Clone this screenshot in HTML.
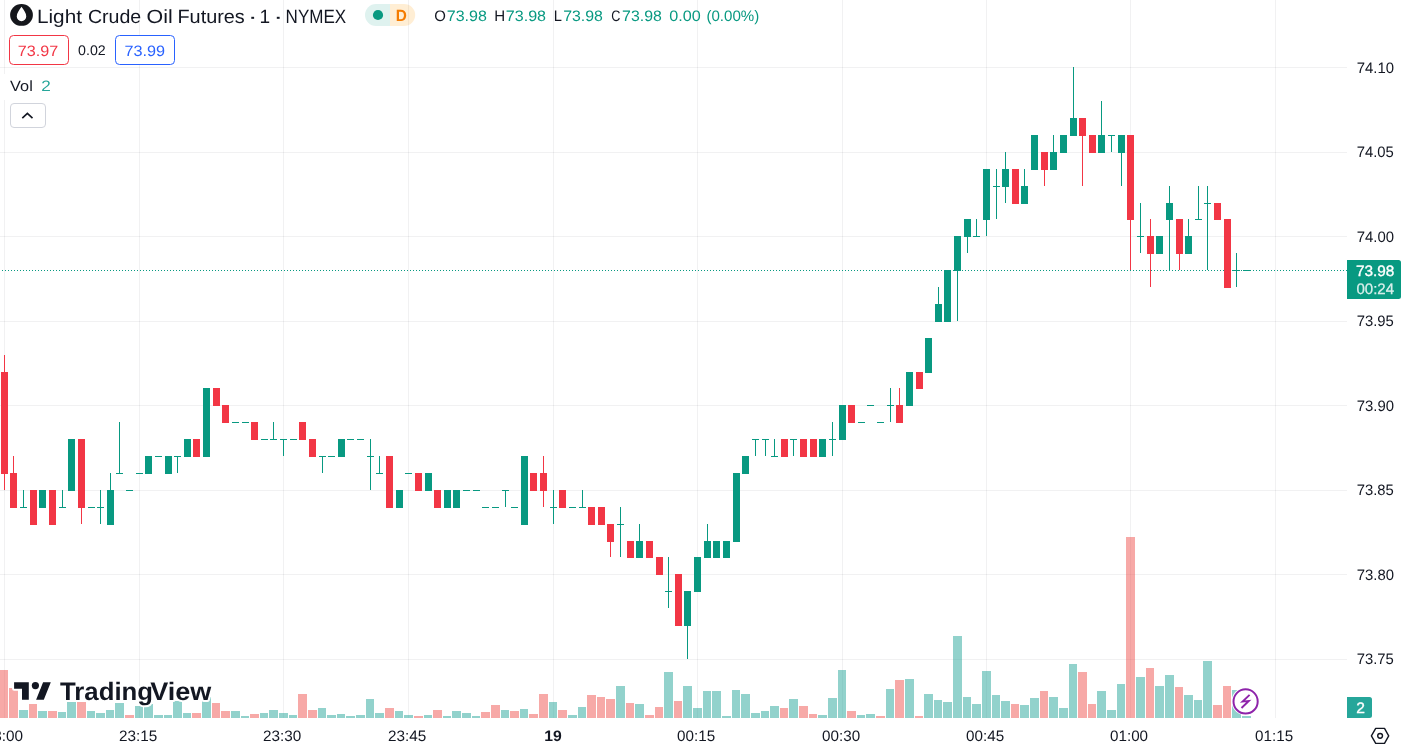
<!DOCTYPE html>
<html lang="en"><head><meta charset="utf-8"><title>Light Crude Oil Futures · 1 · NYMEX</title>
<style>
html,body{margin:0;padding:0;background:#fff;overflow:hidden}
body{width:1401px;height:751px}
svg{display:block}
text{white-space:pre}
</style></head><body>
<svg width="1401" height="751" viewBox="0 0 1401 751" font-family='"Liberation Sans", Arial, sans-serif' text-rendering="geometricPrecision">
<rect width="1401" height="751" fill="#fff"/>
<g fill="rgba(42,46,57,0.065)" shape-rendering="crispEdges"><rect x="4" y="0" width="1" height="718"/><rect x="139" y="0" width="1" height="718"/><rect x="283" y="0" width="1" height="718"/><rect x="408" y="0" width="1" height="718"/><rect x="553" y="0" width="1" height="718"/><rect x="697" y="0" width="1" height="718"/><rect x="842" y="0" width="1" height="718"/><rect x="986" y="0" width="1" height="718"/><rect x="1130" y="0" width="1" height="718"/><rect x="1275" y="0" width="1" height="718"/><rect x="0" y="67" width="1347" height="1"/><rect x="0" y="152" width="1347" height="1"/><rect x="0" y="236" width="1347" height="1"/><rect x="0" y="321" width="1347" height="1"/><rect x="0" y="405" width="1347" height="1"/><rect x="0" y="490" width="1347" height="1"/><rect x="0" y="574" width="1347" height="1"/><rect x="0" y="659" width="1347" height="1"/></g>
<g shape-rendering="crispEdges"><g fill="rgba(38,166,154,0.5)"><rect x="19" y="710" width="9" height="8"/><rect x="38" y="711" width="9" height="7"/><rect x="58" y="712" width="8" height="6"/><rect x="67" y="702" width="9" height="16"/><rect x="87" y="711" width="8" height="7"/><rect x="96" y="713" width="9" height="5"/><rect x="106" y="710" width="8" height="8"/><rect x="115" y="703" width="9" height="15"/><rect x="135" y="706" width="8" height="12"/><rect x="144" y="704" width="9" height="14"/><rect x="154" y="715" width="9" height="3"/><rect x="164" y="715" width="8" height="3"/><rect x="173" y="701" width="9" height="17"/><rect x="183" y="713" width="8" height="5"/><rect x="202" y="697" width="9" height="21"/><rect x="231" y="711" width="9" height="7"/><rect x="241" y="716" width="8" height="2"/><rect x="260" y="713" width="8" height="5"/><rect x="269" y="710" width="9" height="8"/><rect x="279" y="713" width="9" height="5"/><rect x="289" y="715" width="8" height="3"/><rect x="318" y="708" width="8" height="10"/><rect x="327" y="715" width="9" height="3"/><rect x="337" y="714" width="8" height="4"/><rect x="346" y="716" width="9" height="2"/><rect x="356" y="715" width="9" height="3"/><rect x="366" y="699" width="8" height="19"/><rect x="375" y="713" width="9" height="5"/><rect x="395" y="711" width="8" height="7"/><rect x="404" y="715" width="9" height="3"/><rect x="424" y="715" width="8" height="3"/><rect x="443" y="716" width="8" height="2"/><rect x="452" y="711" width="9" height="7"/><rect x="462" y="713" width="9" height="5"/><rect x="472" y="716" width="8" height="2"/><rect x="501" y="710" width="8" height="8"/><rect x="520" y="709" width="8" height="9"/><rect x="549" y="702" width="8" height="16"/><rect x="568" y="715" width="9" height="3"/><rect x="578" y="707" width="8" height="11"/><rect x="616" y="686" width="9" height="32"/><rect x="635" y="704" width="9" height="14"/><rect x="664" y="672" width="9" height="46"/><rect x="683" y="686" width="9" height="32"/><rect x="693" y="708" width="9" height="10"/><rect x="703" y="691" width="8" height="27"/><rect x="712" y="691" width="9" height="27"/><rect x="722" y="716" width="9" height="2"/><rect x="732" y="690" width="8" height="28"/><rect x="741" y="694" width="9" height="24"/><rect x="751" y="713" width="9" height="5"/><rect x="761" y="711" width="8" height="7"/><rect x="770" y="706" width="9" height="12"/><rect x="789" y="699" width="9" height="19"/><rect x="818" y="715" width="9" height="3"/><rect x="828" y="698" width="9" height="20"/><rect x="838" y="670" width="8" height="48"/><rect x="857" y="715" width="8" height="3"/><rect x="866" y="714" width="9" height="4"/><rect x="886" y="689" width="8" height="29"/><rect x="905" y="679" width="9" height="39"/><rect x="924" y="694" width="9" height="24"/><rect x="934" y="700" width="8" height="18"/><rect x="943" y="702" width="9" height="16"/><rect x="953" y="636" width="9" height="82"/><rect x="963" y="697" width="8" height="21"/><rect x="972" y="704" width="9" height="14"/><rect x="982" y="671" width="9" height="47"/><rect x="992" y="695" width="8" height="23"/><rect x="1001" y="701" width="9" height="17"/><rect x="1020" y="705" width="9" height="13"/><rect x="1030" y="698" width="9" height="20"/><rect x="1049" y="697" width="9" height="21"/><rect x="1059" y="708" width="9" height="10"/><rect x="1069" y="664" width="8" height="54"/><rect x="1097" y="691" width="9" height="27"/><rect x="1107" y="710" width="9" height="8"/><rect x="1117" y="684" width="8" height="34"/><rect x="1136" y="677" width="9" height="41"/><rect x="1155" y="686" width="9" height="32"/><rect x="1165" y="675" width="9" height="43"/><rect x="1184" y="695" width="9" height="23"/><rect x="1194" y="700" width="8" height="18"/><rect x="1203" y="661" width="9" height="57"/><rect x="1232" y="690" width="9" height="28"/><rect x="1242" y="716" width="9" height="2"/></g><g fill="rgba(239,83,80,0.5)"><rect x="0" y="670" width="8" height="48"/><rect x="9" y="688" width="9" height="30"/><rect x="29" y="704" width="8" height="14"/><rect x="48" y="711" width="9" height="7"/><rect x="77" y="702" width="9" height="16"/><rect x="125" y="715" width="9" height="3"/><rect x="192" y="713" width="9" height="5"/><rect x="212" y="703" width="8" height="15"/><rect x="221" y="711" width="9" height="7"/><rect x="250" y="714" width="9" height="4"/><rect x="298" y="694" width="9" height="24"/><rect x="308" y="710" width="9" height="8"/><rect x="385" y="708" width="9" height="10"/><rect x="414" y="716" width="9" height="2"/><rect x="433" y="710" width="9" height="8"/><rect x="481" y="712" width="9" height="6"/><rect x="491" y="705" width="9" height="13"/><rect x="510" y="711" width="9" height="7"/><rect x="529" y="714" width="9" height="4"/><rect x="539" y="694" width="9" height="24"/><rect x="558" y="710" width="9" height="8"/><rect x="587" y="695" width="9" height="23"/><rect x="597" y="697" width="8" height="21"/><rect x="606" y="699" width="9" height="19"/><rect x="626" y="703" width="8" height="15"/><rect x="645" y="715" width="9" height="3"/><rect x="655" y="707" width="8" height="11"/><rect x="674" y="701" width="8" height="17"/><rect x="780" y="708" width="8" height="10"/><rect x="799" y="706" width="9" height="12"/><rect x="809" y="714" width="8" height="4"/><rect x="847" y="711" width="9" height="7"/><rect x="876" y="716" width="9" height="2"/><rect x="895" y="680" width="9" height="38"/><rect x="915" y="716" width="8" height="2"/><rect x="1011" y="704" width="8" height="14"/><rect x="1040" y="691" width="8" height="27"/><rect x="1078" y="672" width="9" height="46"/><rect x="1088" y="704" width="8" height="14"/><rect x="1126" y="537" width="9" height="181"/><rect x="1146" y="668" width="8" height="50"/><rect x="1175" y="687" width="8" height="31"/><rect x="1213" y="705" width="9" height="13"/><rect x="1223" y="686" width="8" height="32"/></g></g>
<line x1="2" y1="270.5" x2="1347" y2="270.5" stroke="#089981" stroke-width="1" stroke-dasharray="1 2" shape-rendering="crispEdges"/>
<g shape-rendering="crispEdges"><g fill="#089981"><rect x="23" y="490" width="1" height="17"/><rect x="20" y="507" width="7" height="1"/><rect x="42" y="490" width="1" height="17"/><rect x="39" y="490" width="7" height="18"/><rect x="62" y="490" width="1" height="17"/><rect x="59" y="507" width="7" height="1"/><rect x="71" y="439" width="1" height="51"/><rect x="68" y="439" width="7" height="52"/><rect x="88" y="507" width="7" height="1"/><rect x="100" y="490" width="1" height="34"/><rect x="97" y="507" width="7" height="1"/><rect x="110" y="473" width="1" height="51"/><rect x="107" y="490" width="7" height="35"/><rect x="119" y="422" width="1" height="51"/><rect x="116" y="473" width="7" height="1"/><rect x="126" y="490" width="7" height="1"/><rect x="136" y="473" width="7" height="1"/><rect x="148" y="456" width="1" height="17"/><rect x="145" y="456" width="7" height="18"/><rect x="155" y="456" width="7" height="1"/><rect x="168" y="456" width="1" height="17"/><rect x="165" y="456" width="7" height="18"/><rect x="177" y="456" width="1" height="17"/><rect x="174" y="456" width="7" height="1"/><rect x="187" y="439" width="1" height="17"/><rect x="184" y="439" width="7" height="18"/><rect x="206" y="388" width="1" height="68"/><rect x="203" y="388" width="7" height="69"/><rect x="232" y="422" width="7" height="1"/><rect x="242" y="422" width="7" height="1"/><rect x="261" y="439" width="7" height="1"/><rect x="273" y="422" width="1" height="17"/><rect x="270" y="439" width="7" height="1"/><rect x="283" y="439" width="1" height="17"/><rect x="280" y="439" width="7" height="1"/><rect x="290" y="439" width="7" height="1"/><rect x="322" y="456" width="1" height="17"/><rect x="319" y="456" width="7" height="1"/><rect x="328" y="456" width="7" height="1"/><rect x="341" y="439" width="1" height="17"/><rect x="338" y="439" width="7" height="18"/><rect x="347" y="439" width="7" height="1"/><rect x="357" y="439" width="7" height="1"/><rect x="370" y="439" width="1" height="51"/><rect x="367" y="456" width="7" height="1"/><rect x="379" y="456" width="1" height="17"/><rect x="376" y="473" width="7" height="1"/><rect x="399" y="490" width="1" height="17"/><rect x="396" y="490" width="7" height="18"/><rect x="405" y="473" width="7" height="1"/><rect x="428" y="473" width="1" height="17"/><rect x="425" y="473" width="7" height="18"/><rect x="447" y="490" width="1" height="17"/><rect x="444" y="490" width="7" height="18"/><rect x="456" y="490" width="1" height="17"/><rect x="453" y="490" width="7" height="18"/><rect x="463" y="490" width="7" height="1"/><rect x="473" y="490" width="7" height="1"/><rect x="482" y="507" width="7" height="1"/><rect x="492" y="507" width="7" height="1"/><rect x="505" y="490" width="1" height="17"/><rect x="502" y="490" width="7" height="1"/><rect x="511" y="507" width="7" height="1"/><rect x="524" y="456" width="1" height="68"/><rect x="521" y="456" width="7" height="69"/><rect x="553" y="490" width="1" height="34"/><rect x="550" y="507" width="7" height="1"/><rect x="569" y="507" width="7" height="1"/><rect x="582" y="490" width="1" height="17"/><rect x="579" y="507" width="7" height="1"/><rect x="620" y="507" width="1" height="50"/><rect x="617" y="524" width="7" height="1"/><rect x="639" y="524" width="1" height="33"/><rect x="636" y="541" width="7" height="17"/><rect x="668" y="557" width="1" height="51"/><rect x="665" y="591" width="7" height="1"/><rect x="687" y="591" width="1" height="68"/><rect x="684" y="591" width="7" height="35"/><rect x="697" y="557" width="1" height="34"/><rect x="694" y="557" width="7" height="35"/><rect x="707" y="524" width="1" height="33"/><rect x="704" y="541" width="7" height="17"/><rect x="716" y="541" width="1" height="16"/><rect x="713" y="541" width="7" height="17"/><rect x="726" y="541" width="1" height="16"/><rect x="723" y="541" width="7" height="17"/><rect x="736" y="473" width="1" height="68"/><rect x="733" y="473" width="7" height="69"/><rect x="745" y="456" width="1" height="17"/><rect x="742" y="456" width="7" height="18"/><rect x="755" y="439" width="1" height="17"/><rect x="752" y="439" width="7" height="1"/><rect x="765" y="439" width="1" height="17"/><rect x="762" y="439" width="7" height="1"/><rect x="774" y="439" width="1" height="17"/><rect x="771" y="456" width="7" height="1"/><rect x="793" y="439" width="1" height="17"/><rect x="790" y="439" width="7" height="1"/><rect x="822" y="439" width="1" height="17"/><rect x="819" y="439" width="7" height="18"/><rect x="832" y="422" width="1" height="34"/><rect x="829" y="439" width="7" height="1"/><rect x="842" y="405" width="1" height="34"/><rect x="839" y="405" width="7" height="35"/><rect x="858" y="422" width="7" height="1"/><rect x="867" y="405" width="7" height="1"/><rect x="877" y="422" width="7" height="1"/><rect x="890" y="388" width="1" height="34"/><rect x="887" y="405" width="7" height="1"/><rect x="909" y="372" width="1" height="33"/><rect x="906" y="372" width="7" height="34"/><rect x="928" y="338" width="1" height="34"/><rect x="925" y="338" width="7" height="35"/><rect x="938" y="287" width="1" height="34"/><rect x="935" y="304" width="7" height="18"/><rect x="947" y="270" width="1" height="51"/><rect x="944" y="270" width="7" height="52"/><rect x="957" y="236" width="1" height="85"/><rect x="954" y="236" width="7" height="35"/><rect x="967" y="219" width="1" height="34"/><rect x="964" y="219" width="7" height="18"/><rect x="976" y="219" width="1" height="17"/><rect x="973" y="236" width="7" height="1"/><rect x="986" y="169" width="1" height="67"/><rect x="983" y="169" width="7" height="51"/><rect x="996" y="169" width="1" height="50"/><rect x="993" y="186" width="7" height="1"/><rect x="1005" y="152" width="1" height="51"/><rect x="1002" y="169" width="7" height="18"/><rect x="1024" y="169" width="1" height="34"/><rect x="1021" y="186" width="7" height="18"/><rect x="1034" y="135" width="1" height="34"/><rect x="1031" y="135" width="7" height="35"/><rect x="1053" y="135" width="1" height="34"/><rect x="1050" y="152" width="7" height="18"/><rect x="1063" y="135" width="1" height="17"/><rect x="1060" y="135" width="7" height="18"/><rect x="1073" y="67" width="1" height="68"/><rect x="1070" y="118" width="7" height="18"/><rect x="1101" y="101" width="1" height="51"/><rect x="1098" y="135" width="7" height="18"/><rect x="1111" y="135" width="1" height="17"/><rect x="1108" y="135" width="7" height="1"/><rect x="1121" y="135" width="1" height="51"/><rect x="1118" y="135" width="7" height="18"/><rect x="1140" y="203" width="1" height="50"/><rect x="1137" y="236" width="7" height="1"/><rect x="1159" y="236" width="1" height="17"/><rect x="1156" y="236" width="7" height="18"/><rect x="1169" y="186" width="1" height="84"/><rect x="1166" y="203" width="7" height="17"/><rect x="1188" y="219" width="1" height="34"/><rect x="1185" y="236" width="7" height="18"/><rect x="1198" y="186" width="1" height="33"/><rect x="1195" y="219" width="7" height="1"/><rect x="1207" y="186" width="1" height="84"/><rect x="1204" y="203" width="7" height="1"/><rect x="1236" y="253" width="1" height="34"/><rect x="1233" y="270" width="7" height="1"/><rect x="1243" y="270" width="7" height="1"/></g><g fill="#F23645"><rect x="4" y="355" width="1" height="135"/><rect x="1" y="372" width="7" height="102"/><rect x="13" y="456" width="1" height="51"/><rect x="10" y="473" width="7" height="35"/><rect x="33" y="490" width="1" height="34"/><rect x="30" y="490" width="7" height="35"/><rect x="52" y="490" width="1" height="34"/><rect x="49" y="490" width="7" height="35"/><rect x="81" y="439" width="1" height="85"/><rect x="78" y="439" width="7" height="69"/><rect x="196" y="439" width="1" height="17"/><rect x="193" y="439" width="7" height="18"/><rect x="216" y="388" width="1" height="17"/><rect x="213" y="388" width="7" height="18"/><rect x="225" y="405" width="1" height="17"/><rect x="222" y="405" width="7" height="18"/><rect x="254" y="422" width="1" height="17"/><rect x="251" y="422" width="7" height="18"/><rect x="302" y="422" width="1" height="17"/><rect x="299" y="422" width="7" height="18"/><rect x="312" y="439" width="1" height="17"/><rect x="309" y="439" width="7" height="18"/><rect x="389" y="456" width="1" height="51"/><rect x="386" y="456" width="7" height="52"/><rect x="418" y="473" width="1" height="17"/><rect x="415" y="473" width="7" height="18"/><rect x="437" y="490" width="1" height="17"/><rect x="434" y="490" width="7" height="18"/><rect x="533" y="473" width="1" height="17"/><rect x="530" y="473" width="7" height="18"/><rect x="543" y="456" width="1" height="51"/><rect x="540" y="473" width="7" height="18"/><rect x="562" y="490" width="1" height="17"/><rect x="559" y="490" width="7" height="18"/><rect x="591" y="507" width="1" height="17"/><rect x="588" y="507" width="7" height="18"/><rect x="601" y="507" width="1" height="17"/><rect x="598" y="507" width="7" height="18"/><rect x="610" y="524" width="1" height="33"/><rect x="607" y="524" width="7" height="18"/><rect x="630" y="541" width="1" height="16"/><rect x="627" y="541" width="7" height="17"/><rect x="649" y="541" width="1" height="16"/><rect x="646" y="541" width="7" height="17"/><rect x="659" y="557" width="1" height="17"/><rect x="656" y="557" width="7" height="18"/><rect x="678" y="574" width="1" height="51"/><rect x="675" y="574" width="7" height="52"/><rect x="784" y="439" width="1" height="17"/><rect x="781" y="439" width="7" height="18"/><rect x="803" y="439" width="1" height="17"/><rect x="800" y="439" width="7" height="18"/><rect x="813" y="439" width="1" height="17"/><rect x="810" y="439" width="7" height="18"/><rect x="851" y="405" width="1" height="17"/><rect x="848" y="405" width="7" height="18"/><rect x="899" y="388" width="1" height="34"/><rect x="896" y="405" width="7" height="18"/><rect x="919" y="372" width="1" height="16"/><rect x="916" y="372" width="7" height="17"/><rect x="1015" y="169" width="1" height="34"/><rect x="1012" y="169" width="7" height="35"/><rect x="1044" y="152" width="1" height="34"/><rect x="1041" y="152" width="7" height="18"/><rect x="1082" y="118" width="1" height="68"/><rect x="1079" y="118" width="7" height="18"/><rect x="1092" y="135" width="1" height="17"/><rect x="1089" y="135" width="7" height="18"/><rect x="1130" y="135" width="1" height="135"/><rect x="1127" y="135" width="7" height="85"/><rect x="1150" y="219" width="1" height="68"/><rect x="1147" y="236" width="7" height="18"/><rect x="1179" y="219" width="1" height="51"/><rect x="1176" y="219" width="7" height="35"/><rect x="1217" y="203" width="1" height="16"/><rect x="1214" y="203" width="7" height="17"/><rect x="1227" y="219" width="1" height="68"/><rect x="1224" y="219" width="7" height="69"/></g></g>
<!-- last price label -->
<path d="M1347 260H1398.5a2.5 2.5 0 0 1 2.5 2.5V296.5a2.5 2.5 0 0 1-2.5 2.5H1347z" fill="#089981"/>
<!-- volume label -->
<path d="M1347 697H1369.5a2.5 2.5 0 0 1 2.5 2.5V715.5a2.5 2.5 0 0 1-2.5 2.5H1347z" fill="#26A69A"/>
<!-- settings icon -->
<g fill="none" stroke="#131722" stroke-width="1.4" stroke-linejoin="round">
<path d="M1371.4 735.85L1375.7 728.35H1384.5L1388.7 735.85L1384.5 743.35H1375.7Z"/>
<circle cx="1380.1" cy="735.85" r="2.4"/>
</g>
<!-- lightning icon -->
<circle cx="1245.6" cy="701.4" r="14" fill="#fff"/>
<circle cx="1245.6" cy="701.4" r="12.1" fill="#fff" stroke="#8E24AA" stroke-width="2"/>
<path d="M1249.6 694.9L1242.6 701.6L1248.8 700.9L1241.5 708" fill="none" stroke="#8E24AA" stroke-width="1.9" stroke-miterlimit="8"/>
<!-- legend: symbol icon -->
<ellipse cx="21.5" cy="14.9" rx="11.4" ry="10.95" fill="#15171C"/>
<path d="M21.5 6.8C19 10.3 16.75 13.3 16.75 16.4a4.75 4.75 0 0 0 9.5 0C26.25 13.3 24 10.3 21.5 6.8z" fill="#fff"/>
<!-- status pill -->
<path d="M376 4h14v22h-14a11 11 0 0 1 0-22z" fill="#089981" fill-opacity="0.13"/>
<path d="M390 4h14.2a11 11 0 0 1 0 22H390z" fill="#FF9800" fill-opacity="0.17"/>
<circle cx="378" cy="15" r="5.1" fill="#089981"/>
<!-- bid / ask -->
<rect x="9.5" y="35.5" width="59" height="29" rx="4" fill="#fff" stroke="#F23645"/>
<rect x="115.5" y="35.5" width="59" height="29" rx="4" fill="#fff" stroke="#2962FF"/>
<!-- volume legend -->
<rect x="0" y="74" width="56" height="26" fill="#fff"/>
<rect x="10.5" y="103.5" width="35" height="24" rx="3.5" fill="#fff" stroke="#D1D4DC"/>
<path d="M22.3 118.2L27.4 113.3L32.5 118.2" fill="none" stroke="#131722" stroke-width="1.6"/>
<text x="36.96" y="22.9" font-size="19.1" fill="#131722"  textLength="44.97" lengthAdjust="spacingAndGlyphs">Light</text>
<text x="87.91" y="22.9" font-size="19.1" fill="#131722"  textLength="53.32" lengthAdjust="spacingAndGlyphs">Crude</text>
<text x="146.49" y="22.9" font-size="19.1" fill="#131722"  textLength="26.19" lengthAdjust="spacingAndGlyphs">Oil</text>
<text x="177.46" y="22.9" font-size="19.1" fill="#131722"  textLength="67.36" lengthAdjust="spacingAndGlyphs">Futures</text>
<text x="247.72" y="22.9" font-size="19.1" fill="#131722"  textLength="9.91" lengthAdjust="spacingAndGlyphs">·</text>
<text x="259.52" y="22.9" font-size="19.1" fill="#131722"  textLength="10.62" lengthAdjust="spacingAndGlyphs">1</text>
<text x="273.37" y="22.9" font-size="19.1" fill="#131722"  textLength="9.97" lengthAdjust="spacingAndGlyphs">·</text>
<text x="285.60" y="22.9" font-size="19.1" fill="#131722"  textLength="60.64" lengthAdjust="spacingAndGlyphs">NYMEX</text>
<text x="434.35" y="20.8" font-size="15.2" fill="#131722"  textLength="11.63" lengthAdjust="spacingAndGlyphs">O</text>
<text x="446.76" y="20.8" font-size="15.2" fill="#089981"  textLength="40.16" lengthAdjust="spacingAndGlyphs">73.98</text>
<text x="494.27" y="20.8" font-size="15.2" fill="#131722"  textLength="10.89" lengthAdjust="spacingAndGlyphs">H</text>
<text x="505.76" y="20.8" font-size="15.2" fill="#089981"  textLength="40.32" lengthAdjust="spacingAndGlyphs">73.98</text>
<text x="553.67" y="20.8" font-size="15.2" fill="#131722"  textLength="8.17" lengthAdjust="spacingAndGlyphs">L</text>
<text x="563.16" y="20.8" font-size="15.2" fill="#089981"  textLength="39.76" lengthAdjust="spacingAndGlyphs">73.98</text>
<text x="611.13" y="20.8" font-size="15.2" fill="#131722"  textLength="9.10" lengthAdjust="spacingAndGlyphs">C</text>
<text x="622.10" y="20.8" font-size="15.2" fill="#089981"  textLength="39.71" lengthAdjust="spacingAndGlyphs">73.98</text>
<text x="669.33" y="20.8" font-size="15.2" fill="#089981"  textLength="31.48" lengthAdjust="spacingAndGlyphs">0.00</text>
<text x="706.44" y="20.8" font-size="15.2" fill="#089981"  textLength="52.81" lengthAdjust="spacingAndGlyphs">(0.00%)</text>
<text x="17.86" y="56.0" font-size="15.0" fill="#F23645"  textLength="40.39" lengthAdjust="spacingAndGlyphs">73.97</text>
<text x="78.12" y="54.8" font-size="13.8" fill="#131722"  textLength="27.66" lengthAdjust="spacingAndGlyphs">0.02</text>
<text x="124.43" y="56.0" font-size="15.0" fill="#2962FF"  textLength="40.59" lengthAdjust="spacingAndGlyphs">73.99</text>
<text x="10.12" y="90.6" font-size="15.0" fill="#131722"  textLength="22.66" lengthAdjust="spacingAndGlyphs">Vol</text>
<text x="41.23" y="90.6" font-size="15.0" fill="#26A69A"  textLength="9.55" lengthAdjust="spacingAndGlyphs">2</text>
<text x="395.71" y="20.6" font-size="16.2" font-weight="bold" fill="#F57C00"  textLength="11.12" lengthAdjust="spacingAndGlyphs">D</text>
<text x="1356.72" y="73" font-size="15.1" fill="#131722"  textLength="37.28" lengthAdjust="spacingAndGlyphs">74.10</text>
<text x="1356.71" y="157" font-size="15.1" fill="#131722"  textLength="37.07" lengthAdjust="spacingAndGlyphs">74.05</text>
<text x="1356.72" y="242" font-size="15.1" fill="#131722"  textLength="37.28" lengthAdjust="spacingAndGlyphs">74.00</text>
<text x="1356.71" y="326" font-size="15.1" fill="#131722"  textLength="37.07" lengthAdjust="spacingAndGlyphs">73.95</text>
<text x="1356.72" y="411" font-size="15.1" fill="#131722"  textLength="37.28" lengthAdjust="spacingAndGlyphs">73.90</text>
<text x="1356.71" y="495" font-size="15.1" fill="#131722"  textLength="37.07" lengthAdjust="spacingAndGlyphs">73.85</text>
<text x="1356.72" y="580" font-size="15.1" fill="#131722"  textLength="37.28" lengthAdjust="spacingAndGlyphs">73.80</text>
<text x="1356.71" y="664" font-size="15.1" fill="#131722"  textLength="37.07" lengthAdjust="spacingAndGlyphs">73.75</text>
<text x="118.98" y="741" font-size="15.1" fill="#131722"  textLength="38.31" lengthAdjust="spacingAndGlyphs">23:15</text>
<text x="262.99" y="741" font-size="15.1" fill="#131722"  textLength="38.26" lengthAdjust="spacingAndGlyphs">23:30</text>
<text x="387.98" y="741" font-size="15.1" fill="#131722"  textLength="38.31" lengthAdjust="spacingAndGlyphs">23:45</text>
<text x="677.08" y="741" font-size="15.1" fill="#131722"  textLength="38.04" lengthAdjust="spacingAndGlyphs">00:15</text>
<text x="822.10" y="741" font-size="15.1" fill="#131722"  textLength="38.03" lengthAdjust="spacingAndGlyphs">00:30</text>
<text x="966.09" y="741" font-size="15.1" fill="#131722"  textLength="38.09" lengthAdjust="spacingAndGlyphs">00:45</text>
<text x="1110.09" y="741" font-size="15.1" fill="#131722"  textLength="37.99" lengthAdjust="spacingAndGlyphs">01:00</text>
<text x="1255.08" y="741" font-size="15.1" fill="#131722"  textLength="38.04" lengthAdjust="spacingAndGlyphs">01:15</text>
<text x="544.32" y="741" font-size="15.1" font-weight="bold" fill="#131722"  textLength="17.53" lengthAdjust="spacingAndGlyphs">19</text>
<text x="1355.92" y="276" font-size="15.1" fill="#fff" stroke="#fff" stroke-width="0.35" textLength="38.45" lengthAdjust="spacingAndGlyphs">73.98</text>
<text x="1356.45" y="294" font-size="15.1" fill="#fff" fill-opacity="0.82" stroke="#fff" stroke-opacity="0.8" stroke-width="0.25" textLength="37.67" lengthAdjust="spacingAndGlyphs">00:24</text>
<text x="1356.22" y="713" font-size="15.1" fill="#fff" stroke="#fff" stroke-width="0.35" textLength="8.69" lengthAdjust="spacingAndGlyphs">2</text>
<text x="-15.32" y="741" font-size="15.1" fill="#131722" textLength="38.31" lengthAdjust="spacingAndGlyphs">23:00</text>
<!-- TradingView logo -->
<g stroke="#fff" stroke-width="4" stroke-linejoin="round" paint-order="stroke" fill="#131722">
<path d="M28.8 699.8H22V688.7H14.1V682.15H28.8ZM43.8 699.8H36.1L43.1 682.15H50.8Z"/>
<circle cx="35.4" cy="685.6" r="3.6"/>
</g>
<text x="60.02" y="700.0" font-size="25.3" font-weight="bold" textLength="92.97" lengthAdjust="spacingAndGlyphs" fill="#fff" stroke="#fff" stroke-width="4" stroke-linejoin="round">Trading</text>
<text x="150.22" y="700.0" font-size="25.3" font-weight="bold" textLength="61.10" lengthAdjust="spacingAndGlyphs" fill="#fff" stroke="#fff" stroke-width="4" stroke-linejoin="round">View</text>
<text x="60.02" y="700.0" font-size="25.3" font-weight="bold" textLength="92.97" lengthAdjust="spacingAndGlyphs" fill="#131722">Trading</text>
<text x="150.22" y="700.0" font-size="25.3" font-weight="bold" textLength="61.10" lengthAdjust="spacingAndGlyphs" fill="#131722">View</text>

</svg>
</body></html>
